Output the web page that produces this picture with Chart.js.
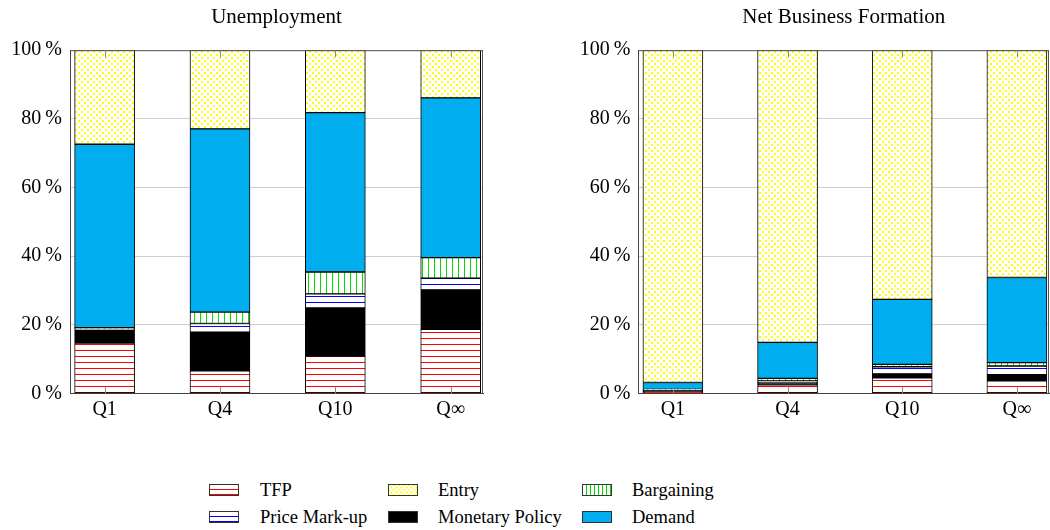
<!DOCTYPE html>
<html>
<head>
<meta charset="utf-8">
<script src="https://cdn.jsdelivr.net/npm/chart.js@4.4.0/dist/chart.umd.min.js"></script>
<style>
  body { margin: 0; background: #fff; width: 1050px; height: 530px; position: relative; overflow: hidden; font-family: "Liberation Serif", serif; }
  canvas { position: absolute; top: 0; }
  #unemp { left: 0; }
  #bizform { left: 525px; }
  .sw { position: absolute; width: 28px; height: 10px; border: 1px solid #333; }
  .lbl { position: absolute; font-family: "Liberation Serif", serif; font-size: 18.5px; line-height: 20px; color: #000; white-space: nowrap; }
  .tfp { background: repeating-linear-gradient(to bottom, #fff 0 4px, #f00 4px 5px); }
  .pm { background: repeating-linear-gradient(to bottom, #fff 0 4px, #00f 4px 5px); }
  .entry { background-color: #fff;
    background-image: radial-gradient(#ff0 0.9px, transparent 1.2px), radial-gradient(#ff0 0.9px, transparent 1.2px);
    background-size: 5px 5px; background-position: 0 0, 2.5px 2.5px; }
  .mp { background: #000; }
  .barg { background: repeating-linear-gradient(to right, #fff 0 3px, #0d0 3px 4px); }
  .demand { background: #00aeef; }
</style>
</head>
<body>
<canvas id="unemp" width="525" height="440"></canvas>
<canvas id="bizform" width="525" height="440"></canvas>

<span class="sw tfp" style="left:209px;top:484px"></span><span class="lbl" style="left:260px;top:480px">TFP</span>
<span class="sw pm" style="left:209px;top:511px"></span><span class="lbl" style="left:260px;top:507px">Price Mark-up</span>
<span class="sw entry" style="left:388px;top:484px"></span><span class="lbl" style="left:438px;top:480px">Entry</span>
<span class="sw mp" style="left:388px;top:511px"></span><span class="lbl" style="left:438px;top:507px">Monetary Policy</span>
<span class="sw barg" style="left:582px;top:484px"></span><span class="lbl" style="left:632px;top:480px">Bargaining</span>
<span class="sw demand" style="left:582px;top:511px"></span><span class="lbl" style="left:632px;top:507px">Demand</span>

<script>
  const categories = ['Q1', 'Q4', 'Q10', 'Q\u221e'];
  const yTicks = [0, 20, 40, 60, 80, 100];

  // Unemployment (share in %)
  const unempTFP = [14.7, 6.6, 10.9, 18.7];
  const unempMonetary = [3.8, 11.3, 14.0, 11.5];
  const unempMarkup = [0.3, 2.5, 4.1, 3.4];
  const unempBargaining = [0.4, 3.3, 6.4, 6.0];
  const unempDemand = [53.4, 53.4, 46.4, 46.5];
  const unempEntry = [27.4, 22.9, 18.2, 13.9];

  // Net business formation (share in %)
  const bfTFP = [0.4, 2.5, 4.6, 3.7];
  const bfMonetary = [0.6, 0.6, 1.1, 1.8];
  const bfMarkup = [0.1, 0.6, 2.1, 2.5];
  const bfBargaining = [0.1, 0.7, 0.7, 1.0];
  const bfDemand = [2.0, 10.5, 18.9, 24.8];
  const bfEntry = [96.8, 85.1, 72.6, 66.2];

  const serif = '"Liberation Serif", serif';
  Chart.defaults.color = '#000';

  function makePattern(w, h, draw) {
    const c = document.createElement('canvas');
    c.width = w; c.height = h;
    const g = c.getContext('2d');
    g.fillStyle = '#fff';
    g.fillRect(0, 0, w, h);
    draw(g);
    return g.createPattern(c, 'repeat');
  }

  const redLines = makePattern(6, 6, g => { g.fillStyle = '#f00'; g.fillRect(0, 2, 6, 1); });
  const blueLines = makePattern(6, 6, g => { g.fillStyle = '#00f'; g.fillRect(0, 2, 6, 1); });
  const greenLines = makePattern(6, 6, g => { g.fillStyle = '#0d0'; g.fillRect(2, 0, 1, 6); });
  const yellowDots = makePattern(6, 6, g => { g.fillStyle = '#ff0'; g.fillRect(0, 0, 2, 2); g.fillRect(3, 3, 2, 2); });

  function series(label, values, fill) {
    return {
      label,
      data: values.map((v, i) => ({ x: i, y: v })),
      backgroundColor: fill,
      borderColor: '#000',
      borderWidth: 1,
      borderSkipped: false,
      barThickness: 60,
      stack: 'all'
    };
  }

  // box on top/right plus the small tick marks at each bar
  const frame = {
    id: 'frame',
    afterDatasetsDraw(chart) {
      const { ctx, chartArea: a, scales: { x } } = chart;
      ctx.save();
      ctx.lineWidth = 1;
      ctx.strokeStyle = '#555';
      ctx.beginPath();
      ctx.moveTo(a.left, a.top + 0.5); ctx.lineTo(a.right, a.top + 0.5);
      ctx.moveTo(a.right - 0.5, a.top); ctx.lineTo(a.right - 0.5, a.bottom);
      ctx.stroke();
      ctx.strokeStyle = '#888';
      ctx.beginPath();
      x.ticks.forEach(t => {
        const px = Math.round(x.getPixelForValue(t.value)) + 0.5;
        ctx.moveTo(px, a.bottom); ctx.lineTo(px, a.bottom - 7);
        ctx.moveTo(px, a.top); ctx.lineTo(px, a.top + 7);
      });
      ctx.stroke();
      ctx.restore();
    }
  };

  function makeChart(id, title, datasets, yWidth, padRight) {
    return new Chart(document.getElementById(id), {
      type: 'bar',
      data: { datasets },
      options: {
        responsive: false,
        animation: false,
        layout: { padding: { left: 0, right: padRight, top: 0, bottom: 0 } },
        plugins: {
          legend: { display: false },
          tooltip: { enabled: false },
          title: {
            display: true,
            text: title,
            fullSize: false,
            color: '#000',
            font: { family: serif, size: 21, weight: 'normal' },
            padding: { top: 5, bottom: 20 }
          }
        },
        scales: {
          x: {
            type: 'linear',
            offset: false,
            min: -0.3,
            max: 3.28,
            grid: { display: false, drawTicks: false, offset: false },
            border: { color: '#444' },
            afterBuildTicks: s => { s.ticks = categories.map((c, i) => ({ value: i })); },
            afterFit: s => { s.height = 46.5; },
            ticks: {
              callback: v => categories[v],
              font: { family: serif, size: 20 },
              color: '#000',
              padding: 4,
              maxRotation: 0,
              autoSkip: false
            }
          },
          y: {
            stacked: true,
            min: 0,
            max: 100,
            grid: { color: '#cfcfcf', drawTicks: false },
            border: { color: '#444' },
            afterBuildTicks: s => { s.ticks = yTicks.map(v => ({ value: v })); },
            afterFit: s => { s.width = yWidth; },
            ticks: {
              callback: v => v + '\u2009%',
              font: { family: serif, size: 20 },
              color: '#000',
              padding: 8
            }
          }
        }
      },
      plugins: [frame]
    });
  }

  makeChart('unemp', 'Unemployment', [
    series('TFP', unempTFP, redLines),
    series('Monetary Policy', unempMonetary, '#000'),
    series('Price Mark-up', unempMarkup, blueLines),
    series('Bargaining', unempBargaining, greenLines),
    series('Demand', unempDemand, '#00aeef'),
    series('Entry', unempEntry, yellowDots)
  ], 70, 42);

  makeChart('bizform', 'Net Business Formation', [
    series('TFP', bfTFP, redLines),
    series('Monetary Policy', bfMonetary, '#000'),
    series('Price Mark-up', bfMarkup, blueLines),
    series('Bargaining', bfBargaining, greenLines),
    series('Demand', bfDemand, '#00aeef'),
    series('Entry', bfEntry, yellowDots)
  ], 113.5, 1);
</script>
</body>
</html>
